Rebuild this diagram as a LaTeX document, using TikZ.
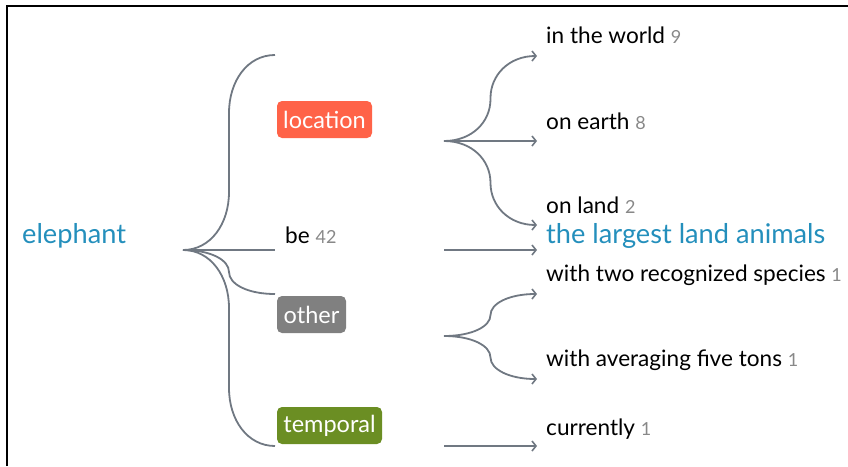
\documentclass[tikz,border=0pt]{standalone}
\usepackage{fontspec}
\setmainfont{Lato}
\usetikzlibrary{arrows.meta,calc}
\definecolor{linkc}{RGB}{112,120,130}
\definecolor{teal1}{RGB}{36,143,188}
\definecolor{numc}{RGB}{136,136,136}
\definecolor{locc}{RGB}{255,99,72}
\definecolor{othc}{RGB}{128,128,128}
\definecolor{tmpc}{RGB}{107,142,35}
\tikzset{
  link/.style={draw=linkc, line width=1.8pt},
  arr/.style={link, -{Straight Barb[length=4pt,width=10pt,line width=1.6pt]}},
  word/.style={inner sep=0pt, anchor=base west, font=\fontsize{22.6}{26}\selectfont, text=black},
  hi/.style={inner sep=0pt, anchor=base west, font=\fontsize{27.2}{31}\selectfont, text=teal1},
  tag/.style={rounded corners=5pt, text=white, font=\fontsize{23.5}{27}\selectfont, inner sep=0pt, minimum height=37pt},
}
\newcommand{\num}[1]{{\fontsize{18}{21}\selectfont\color{numc}#1}}
% brace-like link: quarter curve, vertical run, quarter curve
\newcommand{\blink}[4]{%
  \draw[#1] let \p1=(#2), \p2=(#3), \n1={(\x2-\x1)/2}, \n2={\y2-\y1},
    \n3={ifthenelse(\n2<0,-1,1)*min(abs(\n2)/2,#4)} in
    (\p1) .. controls ({\x1+0.6*\n1},\y1) and ({\x1+\n1},{\y1+0.45*\n3}) .. ({\x1+\n1},{\y1+\n3})
    -- ({\x1+\n1},{\y2-\n3}) .. controls ({\x1+\n1},{\y2-0.45*\n3}) and ({\x2-0.6*\n1},\y2) .. (\p2);}
\begin{document}
\begin{tikzpicture}[x=1pt,y=-1pt]
\useasboundingbox (0,0) rectangle (848,466);
\draw[line width=2pt] (7,466) -- (7,6) -- (848,6);
% left
\node[hi] (eleph) at (22,243) {elephant};
\coordinate (r) at (183,250);
\coordinate (tl) at (275,55);
\coordinate (tb) at (275,250);
\coordinate (to) at (275,294);
\coordinate (tt) at (275,446);
\foreach \t in {tl,tb,to,tt}
  {\blink{link}{r}{\t}{58}}
\node[tag, fill=locc, minimum width=95pt] (loc) at (324.5,119.5) {location};
\node[word] (be) at (285,243) {be \num{42}};
\node[tag, fill=othc, minimum width=69pt] (oth) at (311.5,314.5) {other};
\node[tag, fill=tmpc, minimum width=105pt] (tmp) at (329.5,425.5) {temporal};
% right
\coordinate (L) at (444,141);
\coordinate (L1) at (537,56);
\coordinate (L2) at (537,141);
\coordinate (L3) at (537,225);
\coordinate (B) at (444,250);
\coordinate (B1) at (537,250);
\coordinate (O) at (444,336);
\coordinate (O1) at (537,294);
\coordinate (O2) at (537,379);
\coordinate (T) at (444,446);
\coordinate (T1) at (537,446);
\foreach \s/\t in {L/L1,L/L2,L/L3,B/B1,O/O1,O/O2,T/T1}
  {\blink{arr}{\s}{\t}{42}}
\node[word] (w1) at (546,43) {in the world \num{9}};
\node[word] (w2) at (546,129) {on earth \num{8}};
\node[word] (w3) at (546,213) {on land \num{2}};
\node[hi] (w4) at (546,243) {the largest land animals};
\node[word] (w5) at (546,281) {with two recognized species \num{1}};
\node[word] (w6) at (546,366) {with averaging five tons \num{1}};
\node[word] (w7) at (546,435) {currently \num{1}};
\end{tikzpicture}
\end{document}
